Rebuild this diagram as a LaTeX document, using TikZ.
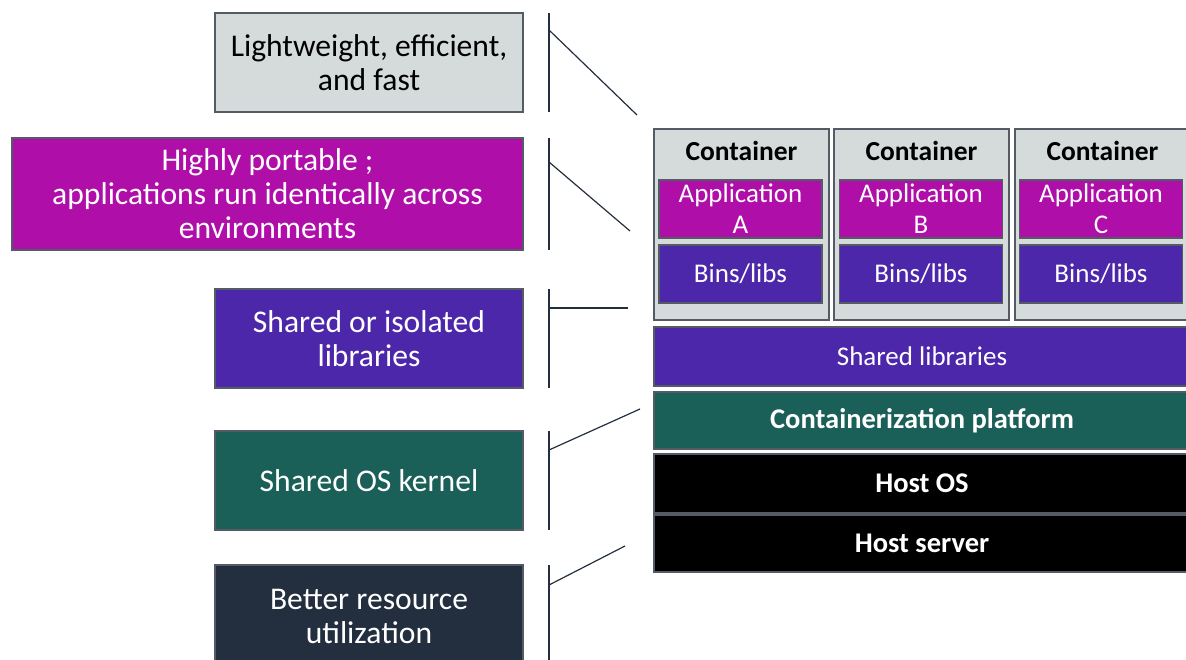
\documentclass[tikz,border=0pt]{standalone}
\usepackage{fontspec}
\setmainfont{Carlito}
\usetikzlibrary{calc}
\definecolor{lgray}{RGB}{213,219,219}
\definecolor{edgegray}{RGB}{84,91,100}
\definecolor{awsmag}{RGB}{176,14,168}
\definecolor{awspurple}{RGB}{77,39,170}
\definecolor{awsteal}{RGB}{27,96,88}
\definecolor{awsnavy}{RGB}{35,47,62}
\definecolor{linecol}{RGB}{35,47,62}
\begin{document}
\begin{tikzpicture}[x=1pt,y=-1pt,
  box/.style={draw=edgegray, line width=1.2pt, inner sep=0pt, align=center},
  ltext/.style={font=\fontsize{31.6}{34}\selectfont},
  rtext/.style={font=\fontsize{27}{31}\selectfont},
  btext/.style={font=\fontsize{28.5}{31}\selectfont\bfseries},
  conn/.style={draw=linecol, line width=1.5pt},
  gbox/.style={box, fill=lgray, text=black},
  mbox/.style={box, fill=awsmag, text=white},
  pbox/.style={box, fill=awspurple, text=white},
  tbox/.style={box, fill=awsteal, text=white},
  nbox/.style={box, fill=awsnavy, text=white},
  kbox/.style={box, fill=black, text=white},
  cbox/.style={gbox, line width=1.5pt, minimum width=175pt, minimum height=191pt}]
\useasboundingbox (0,0) rectangle (1186,660);
\clip (0,0) rectangle (1186,660);

% ---- left boxes
\node[gbox, ltext, minimum width=308pt, minimum height=99pt] (l1) at (369,62.5) {Lightweight, efficient,\\and fast};
\node[mbox, ltext, minimum width=511pt, minimum height=112pt] (l2) at (267.5,194) {Highly portable ;\\applications run identically across\\environments};
\node[pbox, ltext, minimum width=308pt, minimum height=99pt] (l3) at (369,338.5) {Shared or isolated\\libraries};
\node[tbox, ltext, minimum width=308pt, minimum height=99pt] (l4) at (369,480.5) {Shared OS kernel};
\node[nbox, ltext, minimum width=308pt, minimum height=102pt] (l5) at (369,616) {Better resource\\utilization};

% ---- containers
\node[cbox] (c1) at (741.5,224.5) {};
\node[cbox] (c2) at (921.5,224.5) {};
\node[cbox] (c3) at (1102.5,224.5) {};
\node[font=\fontsize{27.5}{31}\selectfont\bfseries] (t1) at (741.5,151) {Container};
\node[font=\fontsize{27.5}{31}\selectfont\bfseries] (t2) at (921.5,151) {Container};
\node[font=\fontsize{27.5}{31}\selectfont\bfseries] (t3) at (1102.5,151) {Container};

\node[mbox, rtext, minimum width=163pt, minimum height=58pt] (a1) at (740.5,209) {Application\\A};
\node[mbox, rtext, minimum width=163pt, minimum height=58pt] (a2) at (921,209) {Application\\B};
\node[mbox, rtext, minimum width=163pt, minimum height=58pt] (a3) at (1101,209) {Application\\C};
\node[pbox, rtext, minimum width=163pt, minimum height=58pt] (b1) at (740.5,274) {Bins/libs};
\node[pbox, rtext, minimum width=163pt, minimum height=58pt] (b2) at (921,274) {Bins/libs};
\node[pbox, rtext, minimum width=163pt, minimum height=58pt] (b3) at (1101,274) {Bins/libs};

% ---- stack
\node[pbox, rtext, minimum width=536pt, minimum height=59pt] (sl) at (922,356.5) {Shared libraries};
\node[tbox, btext, minimum width=536pt, minimum height=57pt] (cp) at (922,420.5) {Containerization platform};
\node[kbox, btext, minimum width=536pt, minimum height=59pt] (hos) at (922,483.5) {Host OS};
\node[kbox, btext, minimum width=536pt, minimum height=57pt] (hsv) at (922,543.5) {Host server};

% ---- brackets and connectors
\coordinate (v1t) at (549,13);  \coordinate (v1b) at (549,112); \coordinate (d1s) at (549,30);  \coordinate (d1e) at (637,115);
\coordinate (v2t) at (549,138); \coordinate (v2b) at (549,250); \coordinate (d2s) at (549,162); \coordinate (d2e) at (630,231);
\coordinate (v3t) at (549,289); \coordinate (v3b) at (549,388); \coordinate (d3s) at (549,308); \coordinate (d3e) at (628,308);
\coordinate (v4t) at (549,431); \coordinate (v4b) at (549,530); \coordinate (d4s) at (549,450); \coordinate (d4e) at (640,409);
\coordinate (v5t) at (549,565); \coordinate (v5b) at (549,662); \coordinate (d5s) at (549,585); \coordinate (d5e) at (625,546);
\foreach \i in {1,...,5}{
  \draw[conn] (v\i t) -- (v\i b);
  \draw[conn, line width=1.2pt] (d\i s) -- (d\i e);
}
\end{tikzpicture}
\end{document}
